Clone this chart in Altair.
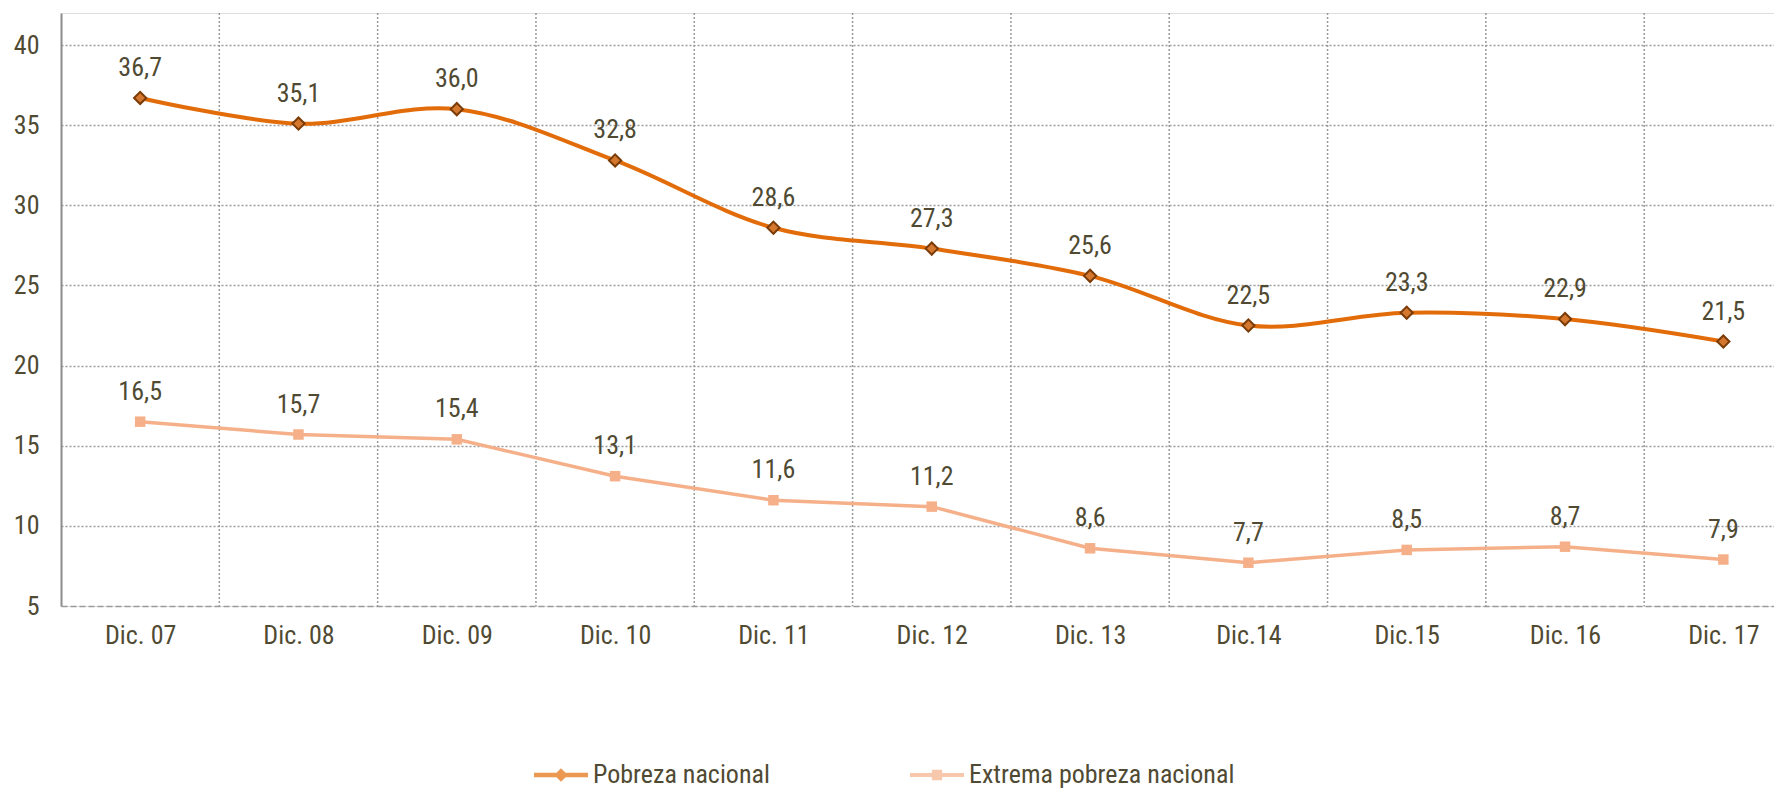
import json
import altair as alt
import pandas as pd

categories = ["Dic. 07", "Dic. 08", "Dic. 09", "Dic. 10", "Dic. 11", "Dic. 12",
              "Dic. 13", "Dic.14", "Dic.15", "Dic. 16", "Dic. 17"]
pobreza = [36.7, 35.1, 36.0, 32.8, 28.6, 27.3, 25.6, 22.5, 23.3, 22.9, 21.5]
extrema = [16.5, 15.7, 15.4, 13.1, 11.6, 11.2, 8.6, 7.7, 8.5, 8.7, 7.9]
series_names = ["Pobreza nacional", "Extrema pobreza nacional"]
y_ticks = [5, 10, 15, 20, 25, 30, 35, 40]
grid_positions = [i + 0.5 for i in range(len(categories) - 1)]

FONT = "'Liberation Sans Narrow', 'Arial Narrow', 'Roboto Condensed', 'DejaVu Sans Condensed', sans-serif"
WEIGHT = 400
TEXT = "#504a33"
ORANGE = "#e36c0a"
DIAMOND_FILL = "#d4772f"
DIAMOND_STROKE = "#7a3b07"
LIGHT = "#f5b08a"
GRID = "#9a9a9a"

rows = []
for i, c in enumerate(categories):
    rows.append({"idx": i, "cat": c, "value": pobreza[i], "series": series_names[0]})
    rows.append({"idx": i, "cat": c, "value": extrema[i], "series": series_names[1]})
df = pd.DataFrame(rows)
grid_df = pd.DataFrame({"pos": grid_positions})

x_scale = alt.Scale(domain=[-0.5, 10.32], nice=False, zero=False)
y_scale = alt.Scale(domain=[5, 42], nice=False, zero=False)

label_expr = json.dumps(categories) + "[datum.value]"

x_axis = alt.Axis(
    values=list(range(len(categories))), labelExpr=label_expr, title=None,
    grid=False, ticks=False, domainDash=[6, 3], domainColor=GRID, domainWidth=1.5,
    labelFont=FONT, labelFontSize=26, labelFontWeight=WEIGHT, labelColor=TEXT, labelPadding=16,
    labelFlush=False, labelOverlap=False,
)
y_axis = alt.Axis(
    values=y_ticks, title=None, ticks=False,
    domainColor="#8c8c8c", domainWidth=2,
    grid=True, gridColor=GRID, gridDash=[2, 2], gridWidth=1.5,
    gridOpacity={"condition": {"test": "datum.value == 5", "value": 0}, "value": 1},
    labelFont=FONT, labelFontSize=26, labelFontWeight=WEIGHT, labelColor=TEXT, labelPadding=22,
)

X = alt.X("idx:Q", scale=x_scale, axis=x_axis)
Y = alt.Y("value:Q", scale=y_scale, axis=y_axis)

vgrid = alt.Chart(grid_df).mark_rule(
    color=GRID, strokeDash=[2, 2], strokeWidth=1.5
).encode(x=alt.X("pos:Q", scale=x_scale, axis=x_axis))

base = alt.Chart(df)
pob = base.transform_filter(alt.datum.series == series_names[0])
ext = base.transform_filter(alt.datum.series == series_names[1])

pob_line = pob.mark_line(color=ORANGE, strokeWidth=4, interpolate="catmull-rom").encode(x=X, y=Y)
ext_line = ext.mark_line(color=LIGHT, strokeWidth=3.5).encode(x=X, y=Y)
pob_pts = pob.mark_point(shape="diamond", filled=True, fill=DIAMOND_FILL, stroke=DIAMOND_STROKE,
                         strokeWidth=2, size=150, opacity=1).encode(x=X, y=Y)
ext_pts = ext.mark_point(shape="square", filled=True, color=LIGHT, size=110, opacity=1).encode(x=X, y=Y)

labels = base.transform_calculate(
    txt="replace(format(datum.value, '.1f'), '.', ',')"
).mark_text(font=FONT, fontSize=26, fontWeight=WEIGHT, color=TEXT, dy=-30, baseline="middle").encode(
    x=X, y=Y, text="txt:N"
)

path_pob = ("M-1,-0.08 H1 V0.08 H-1 Z "
            "M0,-0.25 L0.25,0 L0,0.25 L-0.25,0 Z")
path_ext = ("M-1,-0.07 H1 V0.07 H-1 Z "
            "M-0.19,-0.19 H0.19 V0.19 H-0.19 Z")

leg = alt.Legend(
    title=None, orient="none", legendX=473, legendY=735, direction="horizontal",
    symbolSize=2916, symbolStrokeWidth=0, labelFont=FONT, labelFontSize=26,
    labelFontWeight=WEIGHT, labelColor=TEXT, labelOffset=5, columnPadding=140, labelLimit=500,
)
legend_layer = base.transform_filter("datum.idx < 0").mark_point(filled=True).encode(
    x=X, y=Y,
    color=alt.Color("series:N", scale=alt.Scale(domain=series_names, range=[ORANGE, LIGHT]), legend=leg),
    shape=alt.Shape("series:N", scale=alt.Scale(domain=series_names, range=[path_pob, path_ext]), legend=leg),
)

chart = alt.layer(
    vgrid, ext_line, pob_line, ext_pts, pob_pts, labels, legend_layer
).properties(
    width=1713, height=593,
    autosize=alt.AutoSizeParams(type="none"),
    padding={"left": 53, "top": 5, "right": 0, "bottom": 183},
).configure_view(stroke=None).configure(background="white")

chart.save("out.html", embed_options={"renderer": "svg", "actions": False})
